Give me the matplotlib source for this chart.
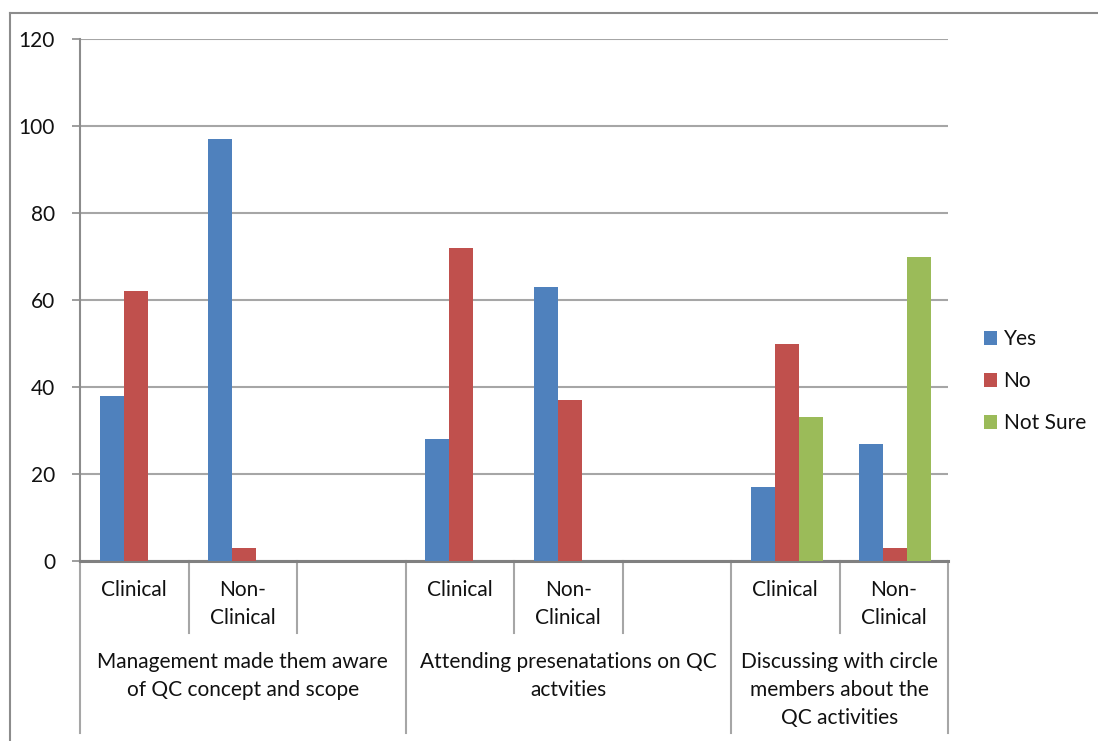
import matplotlib.pyplot as plt
from matplotlib.lines import Line2D

# data
groups = ["Management made them aware\nof QC concept and scope",
          "Attending presenatations on QC\nactvities",
          "Discussing with circle\nmembers about the\nQC activities"]
sub_labels = [["Clinical", "Non-\nClinical", ""],
              ["Clinical", "Non-\nClinical", ""],
              ["Clinical", "Non-\nClinical"]]
series = ["Yes", "No", "Not Sure"]
colors = ["#4F81BD", "#C0504D", "#9BBB59"]
yes_vals = [38, 97, None, 28, 63, None, 17, 27]
no_vals = [62, 3, None, 72, 37, None, 50, 3]
notsure_vals = [0, 0, None, 0, 0, None, 33, 70]

plt.rcParams['font.family'] = ['Lato', 'DejaVu Sans']
fig = plt.figure(figsize=(10.98, 7.41), dpi=100)
ax = fig.add_axes([80 / 1098, 1 - 561 / 741, 868 / 1098, 522 / 741])

txt_col = "#111111"
fs = 15

n_slots = sum(len(s) for s in sub_labels)
bw = 0.221
for k, (name, vals, c) in enumerate(zip(series, [yes_vals, no_vals, notsure_vals], colors)):
    xs = [i + 0.5 + (k - 1) * bw + 0.015 for i, v in enumerate(vals) if v is not None]
    hs = [v for v in vals if v is not None]
    ax.bar(xs, hs, width=bw, color=c, label=name, zorder=3)

ax.set_xlim(0, n_slots)
ax.set_ylim(0, 120)
ax.set_yticks(range(0, 121, 20))
ax.yaxis.grid(True, color="#A6A6A6", linewidth=1.5, zorder=0)
ax.set_xticks([])
for s in ["top", "right"]:
    ax.spines[s].set_visible(False)
ax.spines["left"].set_color("#8C8C8C")
ax.spines["left"].set_linewidth(1.5)
ax.spines["bottom"].set_color("#808080")
ax.spines["bottom"].set_linewidth(2.2)
ax.tick_params(axis="y", length=6, width=1.2, color="#8C8C8C", pad=12,
               labelsize=fs, labelcolor=txt_col)

# multi-level category axis
tr = ax.get_xaxis_transform()
sep_sub = -72 / 522
sep_grp = -172 / 522
pos = 0
for g, subs in zip(groups, sub_labels):
    start = pos
    ax.add_line(Line2D([start, start], [0, sep_grp], transform=tr, color="#A6A6A6",
                       linewidth=1.5, clip_on=False))
    for j, lab in enumerate(subs):
        if j > 0:
            ax.add_line(Line2D([pos, pos], [0, sep_sub], transform=tr, color="#A6A6A6",
                               linewidth=1.5, clip_on=False))
        ax.text(pos + 0.5, -19 / 522, lab, transform=tr, ha="center", va="top",
                fontsize=fs, color=txt_col, linespacing=1.5)
        pos += 1
    ax.text((start + pos) / 2, -91 / 522, g, transform=tr, ha="center", va="top",
            fontsize=fs, color=txt_col, linespacing=1.5)
ax.add_line(Line2D([pos, pos], [0, sep_grp], transform=tr, color="#A6A6A6",
                   linewidth=1.5, clip_on=False))

ax.legend(loc="center left", bbox_to_anchor=(965 / 1098, 1 - 381 / 741),
          bbox_transform=fig.transFigure, frameon=False, fontsize=fs,
          labelcolor=txt_col, handlelength=0.65, handleheight=0.65,
          handletextpad=0.3, labelspacing=1.05)

# outer chart border
fig.add_artist(Line2D([10 / 1098, 1], [1 - 13 / 741, 1 - 13 / 741], color="#8C8C8C", linewidth=1.5))
fig.add_artist(Line2D([10 / 1098, 10 / 1098], [1 - 13 / 741, 0], color="#8C8C8C", linewidth=1.5))

plt.savefig("out.png", dpi=100)
